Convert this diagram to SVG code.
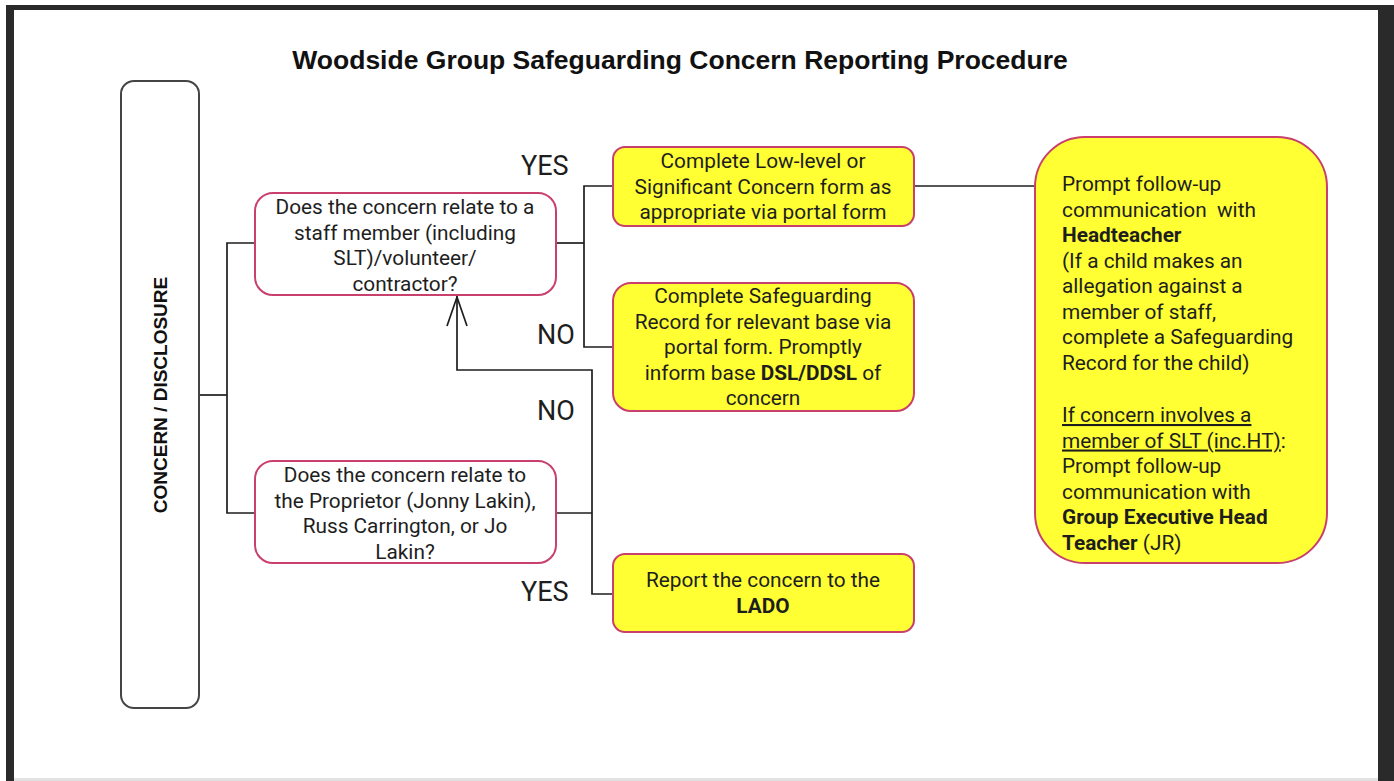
<svg xmlns="http://www.w3.org/2000/svg" width="1394" height="781" viewBox="0 0 1394 781">
<style>
.q{fill:#fff;stroke:#c8406b;stroke-width:2}
.y{fill:#ffff33;stroke:#c8406b;stroke-width:2}
.t{font-family:Roboto,"Liberation Sans",sans-serif;font-size:20.8px;fill:#1e1e1e}
.c{text-anchor:middle}
.b{font-weight:bold}
.lbl{font-family:Roboto,"Liberation Sans",sans-serif;font-size:27px;fill:#1e1e1e}
.ln{fill:none;stroke:#1e1e1e;stroke-width:1.7}
</style>
<rect width="1394" height="781" fill="#ffffff"/>
<rect x="6" y="5" width="1388" height="776" fill="#2a2a2a"/>
<rect x="14" y="10" width="1364" height="771" fill="#ffffff"/>
<rect x="14" y="778" width="1364" height="3" fill="#e2e2e2"/>
<text x="680" y="69" text-anchor="middle" font-family="'Liberation Sans',Arial,sans-serif" font-size="26.5" font-weight="bold" fill="#111">Woodside Group Safeguarding Concern Reporting Procedure</text>

<g id="connectors">
<polyline class="ln" points="199,395 227,395"/>
<polyline class="ln" points="255,243 227,243 227,513 255,513"/>
<polyline class="ln" points="556,243 584,243"/>
<polyline class="ln" points="613,186 584,186 584,347 613,347"/>
<polyline class="ln" points="914,186 1035,186"/>
<polyline class="ln" points="556,513 592,513"/>
<polyline class="ln" points="457,288 457,370 592,370 592,594 613,594"/>
<polyline class="ln" points="447,326 457,297 467,326"/>
</g>

<g id="labels">
<text class="lbl" x="521" y="175">YES</text>
<text class="lbl" x="537" y="344">NO</text>
<text class="lbl" x="537" y="420">NO</text>
<text class="lbl" x="521" y="601">YES</text>
</g>

<g id="start">
<rect x="121" y="81" width="78" height="627" rx="13" fill="#fff" stroke="#444" stroke-width="2"/>
<text transform="translate(167,395) rotate(-90)" text-anchor="middle" font-family="'Liberation Sans',Arial,sans-serif" font-size="19" font-weight="bold" fill="#111">CONCERN / DISCLOSURE</text>
</g>

<g id="q1">
<rect class="q" x="255" y="193" width="301" height="102" rx="18"/>
<text class="t c" x="405" y="214">Does the concern relate to a</text>
<text class="t c" x="405" y="239.5">staff member (including</text>
<text class="t c" x="405" y="265">SLT)/volunteer/</text>
<text class="t c" x="405" y="290.5">contractor?</text>
</g>

<g id="q2">
<rect class="q" x="255" y="461" width="301" height="102" rx="18"/>
<text class="t c" x="405" y="482">Does the concern relate to</text>
<text class="t c" x="405" y="507.5">the Proprietor (Jonny Lakin),</text>
<text class="t c" x="405" y="533">Russ Carrington, or Jo</text>
<text class="t c" x="405" y="558.5">Lakin?</text>
</g>

<g id="boxA">
<rect class="y" x="613" y="147" width="301" height="79" rx="12"/>
<text class="t c" x="763" y="168">Complete Low-level or</text>
<text class="t c" x="763" y="193.5">Significant Concern form as</text>
<text class="t c" x="763" y="219">appropriate via portal form</text>
</g>

<g id="boxB">
<rect class="y" x="613" y="283" width="301" height="128" rx="18"/>
<text class="t c" x="763" y="303">Complete Safeguarding</text>
<text class="t c" x="763" y="328.5">Record for relevant base via</text>
<text class="t c" x="763" y="354">portal form. Promptly</text>
<text class="t c" x="763" y="379.5">inform base <tspan class="b">DSL/DDSL</tspan> of</text>
<text class="t c" x="763" y="405">concern</text>
</g>

<g id="boxD">
<rect class="y" x="613" y="554" width="301" height="78" rx="12"/>
<text class="t c" x="763" y="587">Report the concern to the</text>
<text class="t c b" x="763" y="612.5">LADO</text>
</g>

<g id="boxC">
<rect class="y" x="1035" y="137" width="292" height="426" rx="50"/>
<text class="t" x="1062" y="191">Prompt follow-up</text>
<text class="t" x="1062" y="216.5" xml:space="preserve">communication  with</text>
<text class="t b" x="1062" y="242">Headteacher</text>
<text class="t" x="1062" y="267.5">(If a child makes an</text>
<text class="t" x="1062" y="293">allegation against a</text>
<text class="t" x="1062" y="318.5">member of staff,</text>
<text class="t" x="1062" y="344">complete a Safeguarding</text>
<text class="t" x="1062" y="369.5">Record for the child)</text>
<text class="t" x="1062" y="422" text-decoration="underline">If concern involves a</text>
<text class="t" x="1062" y="447.5"><tspan text-decoration="underline">member of SLT (inc.HT)</tspan>:</text>
<text class="t" x="1062" y="473">Prompt follow-up</text>
<text class="t" x="1062" y="498.5">communication with</text>
<text class="t b" x="1062" y="524">Group Executive Head</text>
<text class="t" x="1062" y="549.5"><tspan class="b">Teacher</tspan> (JR)</text>
</g>
</svg>
